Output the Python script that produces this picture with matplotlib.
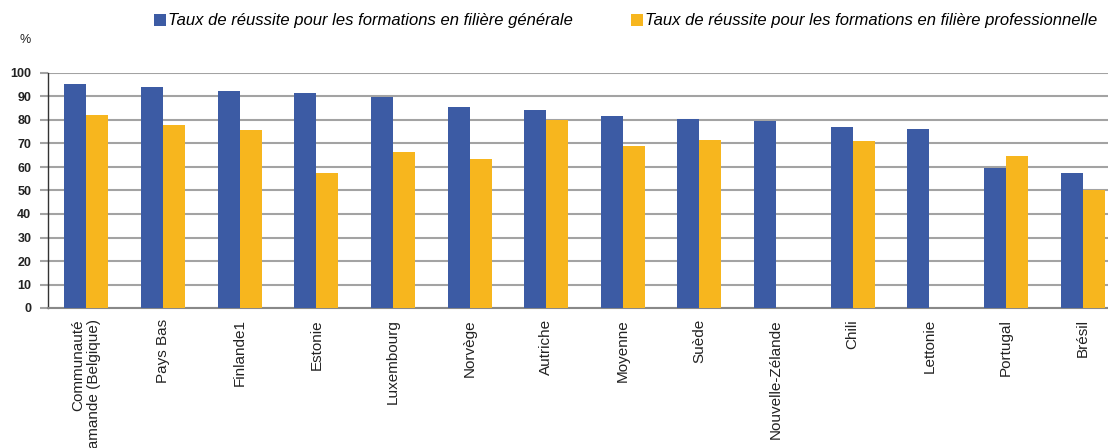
import matplotlib
matplotlib.use("Agg")
import matplotlib.pyplot as plt
import numpy as np

plt.rcParams['font.family'] = ['Liberation Sans', 'DejaVu Sans']

# Data
countries = ['Communauté\nflamande (Belgique)', 'Pays Bas', 'Finlande1', 'Estonie',
             'Luxembourg', 'Norvège', 'Autriche', 'Moyenne', 'Suède',
             'Nouvelle-Zélande', 'Chili', 'Lettonie', 'Portugal', 'Brésil']
generale = [95.3, 94.0, 92.3, 91.5, 89.8, 85.5, 84.3, 81.7, 80.4, 79.6, 77.0, 76.2, 59.6, 57.4]
professionnelle = [82.1, 77.9, 75.7, 57.4, 66.4, 63.4, 80.0, 68.9, 71.5, np.nan, 71.1, np.nan, 64.7, 50.2]
label_gen = 'Taux de réussite pour les formations en filière générale'
label_pro = 'Taux de réussite pour les formations en filière professionnelle'

BLUE = '#3c5ba4'
ORANGE = '#f7b61e'

fig = plt.figure(figsize=(11.08, 4.48), dpi=100)
ax = fig.add_axes([48 / 1108, 140 / 448, 1073 / 1108, 235 / 448])

x = np.arange(len(countries))
w = 0.287
ax.bar(x - w / 2, generale, w, color=BLUE, label=label_gen, zorder=3)
ax.bar(x + w / 2, professionnelle, w, color=ORANGE, label=label_pro, zorder=3)

ax.set_xlim(-0.5, len(countries) - 0.5)
ax.set_ylim(0, 100)
ax.set_yticks(range(0, 101, 10))
ax.yaxis.grid(True, color='#a3a3a3', linewidth=1.5, zorder=0)
ax.set_axisbelow(True)

for side in ['top', 'right']:
    ax.spines[side].set_visible(False)
ax.spines['left'].set_color('#333333')
ax.spines['left'].set_linewidth(1.0)
ax.spines['bottom'].set_color('#888888')
ax.spines['bottom'].set_linewidth(1.5)

ax.tick_params(axis='y', length=6, width=1.5, color='#a3a3a3', labelsize=9, pad=6)
for lbl in ax.get_yticklabels():
    lbl.set_fontweight('bold')
    lbl.set_color('#222222')

ax.set_xticks(x)
ax.set_xticklabels(countries, rotation=90, fontsize=11, va='top', ha='center',
                   multialignment='right', color='#222222')
ax.tick_params(axis='x', length=0, pad=8)

fig.text(20 / 1108, 1 - 40 / 448, '%', fontsize=9, ha='left', va='center', color='#222222')

leg = fig.legend(loc='center', bbox_to_anchor=(626 / 1108, 1 - 21 / 448), ncol=2,
                 frameon=False, prop={'size': 12, 'style': 'italic'},
                 handlelength=0.72, handleheight=0.72, handletextpad=0.12,
                 columnspacing=3.5)

fig.savefig('out.png', dpi=100)
